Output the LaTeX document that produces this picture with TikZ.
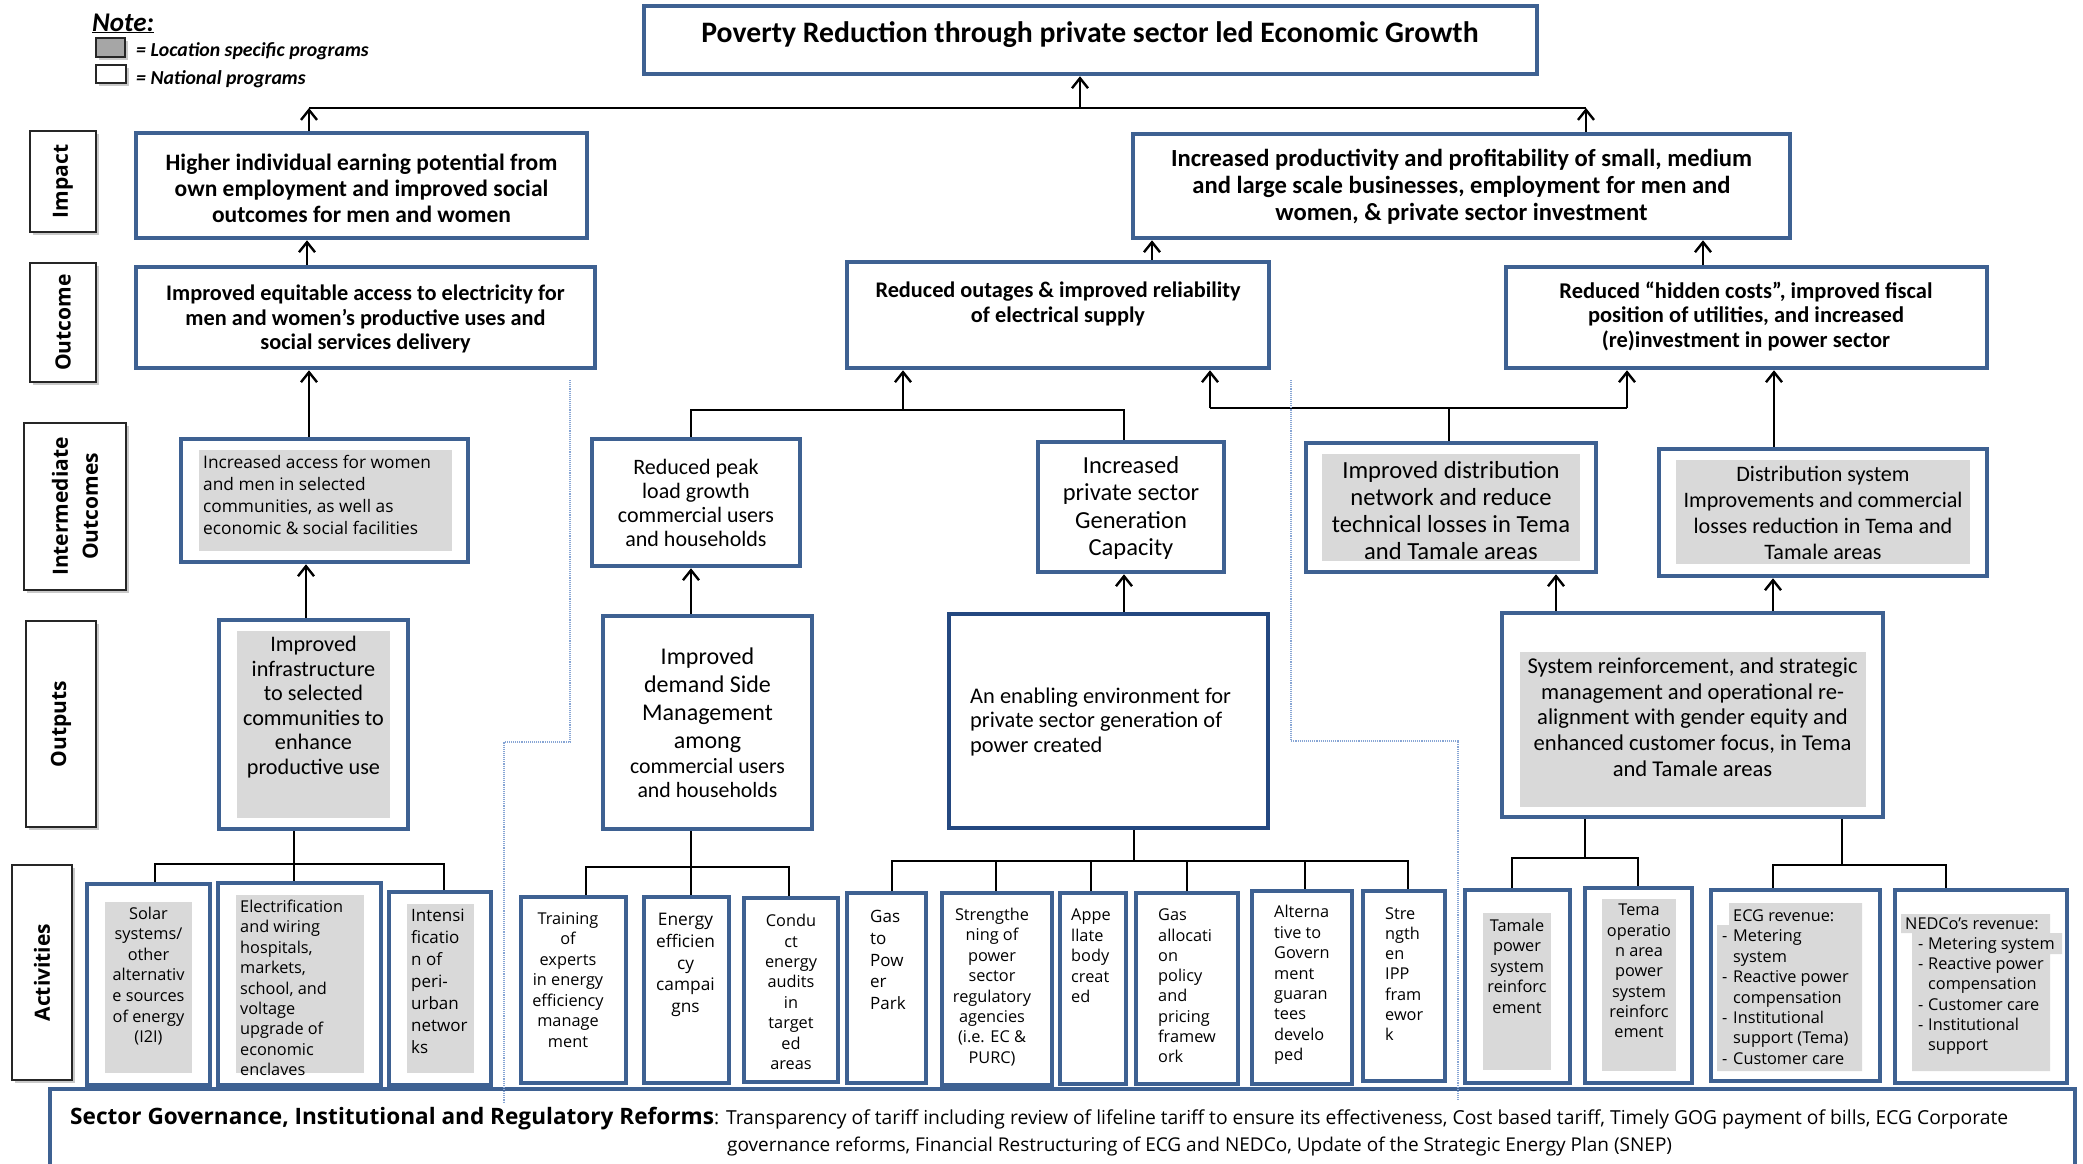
\documentclass[tikz,border=0pt]{standalone}
\usepackage{fontspec}
\setmainfont{Carlito}
\newfontfamily\osans{Open Sans}
\usetikzlibrary{arrows.meta,fit,shadows}
\definecolor{boxblue}{RGB}{62,97,146}
\definecolor{deepblue}{RGB}{36,72,128}
\definecolor{hlgray}{RGB}{217,217,217}
\definecolor{guide}{RGB}{135,165,212}
\newcommand\fs[2]{\fontsize{#1}{#2}\selectfont}
\newcommand\dsh[1]{\makebox[#1][l]{-}}
\begin{document}
\begin{tikzpicture}[x=1pt,y=-1pt,
  obox/.style={draw=boxblue,line width=4.5pt,fill=white,inner sep=0pt},
  gfill/.style={fill=hlgray,draw=none,inner sep=0pt},
  rowlbl/.style={draw=black!85,line width=1.3pt,fill=white,inner sep=0pt,
     drop shadow={shadow xshift=2.5pt,shadow yshift=-2.5pt,fill=black!30,opacity=.7}},
  lbltxt/.style={rotate=90,font=\osans\bfseries\fs{21}{30},align=center,inner sep=0pt},
  ctxt/.style={inner sep=0pt,align=center},
  ltxt/.style={inner sep=0pt,align=left,anchor=west},
  wire/.style={line width=2.6pt,black},
  arr/.style={wire,-{Straight Barb[length=10pt,width=16pt,line width=2.4pt]}},
  guideline/.style={guide,line width=1.1pt,densely dotted}
]
\useasboundingbox (0,0) rectangle (2083,1163);

% ---------- legend ----------
\node[anchor=base west,inner sep=0pt,font=\bfseries\itshape\fs{27}{30}] (note) at (92,31) {\underline{Note:}};
\node[rowlbl,fill=black!35,fit={(96,38) (125,57)}] (lgray) {};
\node[rowlbl,fit={(96,65) (126,83)}] (lwhite) {};
\node[ltxt,font=\bfseries\itshape\fs{19.8}{22}] (lgtxt) at (136,51) {= Location specific programs};
\node[ltxt,font=\bfseries\itshape\fs{19.8}{22}] (lwtxt) at (136,79) {= National programs};

% ---------- goal ----------
\node[obox,fit={(644,6) (1537,74)}] (title) {};
\node[ctxt,font=\bfseries\fs{29.7}{32}] (titletxt) at (1090,35) {Poverty Reduction through private sector led Economic Growth};

% ---------- row labels ----------
\node[rowlbl,fit={(30,131) (96,232)}] (limpact) {};
\node[lbltxt] at (limpact.center) {Impact};
\node[rowlbl,fit={(30,263) (96,382)}] (loutcome) {};
\node[lbltxt] at (loutcome.center) {Outcome};
\node[rowlbl,fit={(24,423) (126,590)}] (linter) {};
\node[lbltxt] at (linter.center) {Intermediate\\Outcomes};
\node[rowlbl,fit={(26,621) (96,827)}] (loutput) {};
\node[lbltxt] at (loutput.center) {Outputs};
\node[rowlbl,fit={(12,865) (72,1080)}] (lactiv) {};
\node[lbltxt] at (lactiv.center) {Activities};

% ---------- impact ----------
\node[obox,fit={(136,133) (587,238)}] (imp1) {};
\node[ctxt,font=\bfseries\fs{23.5}{26}] at (361.5,188) {Higher individual earning potential from\\own employment and improved social\\outcomes for men and women};
\node[obox,fit={(1133,134) (1790,238)}] (imp2) {};
\node[ctxt,font=\bfseries\fs{24.6}{27}] at (1461.5,187) {Increased productivity and profitability of small, medium\\and large scale businesses, employment for men and\\women, \& private sector investment};

% ---------- outcome ----------
\node[obox,fit={(136,267) (595,368)}] (oc1) {};
\node[ctxt,font=\bfseries\fs{22.3}{24.5}] at (365.5,319) {Improved equitable access to electricity for\\men and women’s productive uses and\\social services delivery};
\node[obox,fit={(847,262) (1269,368)}] (oc2) {};
\node[ctxt,font=\bfseries\fs{22.3}{25}] at (1058,304) {Reduced outages \& improved reliability\\of electrical supply};
\node[obox,fit={(1506,267) (1987,368)}] (oc3) {};
\node[ctxt,font=\bfseries\fs{22.5}{24.5}] at (1746,316) {Reduced “hidden costs”, improved fiscal\\position of utilities, and increased\\(re)investment in power sector};

% ---------- intermediate outcomes ----------
\node[obox,fit={(181,439) (468,562)}] (io1) {};
\node[gfill,fit={(199,450) (452,551)}] {};
\node[ltxt,font=\osans\fs{17.3}{21.7}] at (203,495) {Increased access for women\\and men in selected\\communities, as well as\\economic \& social facilities};
\node[obox,fit={(592,439) (800,566)}] (io2) {};
\node[ctxt,font=\fs{22}{24}] at (696,503) {Reduced peak\\load growth\\commercial users\\and households};
\node[obox,fit={(1038,442) (1224,572)}] (io3) {};
\node[ctxt,font=\fs{24.5}{27.4}] at (1131,508) {Increased\\private sector\\Generation\\Capacity};
\node[obox,fit={(1306,443) (1596,572)}] (io4) {};
\node[gfill,fit={(1322,454) (1580,561)}] {};
\node[ctxt,font=\fs{24.6}{27}] at (1451,511) {Improved distribution\\network and reduce\\technical losses in Tema\\and Tamale areas};
\node[obox,fit={(1659,449) (1987,576)}] (io5) {};
\node[gfill,fit={(1676,460) (1970,564)}] {};
\node[ctxt,font=\fs{22.1}{26}] at (1823,513) {Distribution system\\Improvements and commercial\\losses reduction in Tema and\\Tamale areas};

% ---------- outputs ----------
\node[obox,fit={(219,620) (408,829)}] (op1) {};
\node[gfill,fit={(237,631) (390,818)}] {};
\node[ctxt,font=\fs{22.2}{24.5}] at (313.5,707) {Improved\\infrastructure\\to selected\\communities to\\enhance\\productive use};
\node[obox,fit={(603,616) (812,829)}] (op2) {};
\node[ctxt,font=\fs{24}{28}] at (707.5,700) {Improved\\demand Side\\Management\\among};
\node[ctxt,font=\fs{21.8}{24}] at (707.5,778) {commercial users\\and households};
\node[obox,draw=deepblue,fit={(949,614) (1268,828)}] (op3) {};
\node[ltxt,font=\fs{22.4}{24.5}] at (970,722) {An enabling environment for\\private sector generation of\\power created};
\node[obox,fit={(1502,613) (1883,817)}] (op4) {};
\node[gfill,fit={(1520,652) (1866,807)}] {};
\node[ctxt,font=\fs{22.6}{25.7}] at (1692.5,717) {System reinforcement, and strategic\\management and operational re-\\alignment with gender equity and\\enhanced customer focus, in Tema\\and Tamale areas};

% ---------- activities ----------
\node[obox,fit={(87,884) (210,1085)}] (a1) {};
\node[gfill,fit={(105,902) (192,1073)}] {};
\node[ctxt,font=\osans\fs{16.3}{20.6}] at (148.5,976) {Solar\\systems/\\other\\alternativ\\e sources\\of energy\\(I2I)};
\node[obox,fit={(218,883) (381,1085)}] (a2) {};
\node[gfill,fit={(236,895) (364,1073)}] {};
\node[ltxt,font=\osans\fs{16.3}{20.4}] at (240,988) {Electrification\\and wiring\\hospitals,\\markets,\\school, and\\voltage\\upgrade of\\economic\\enclaves};
\node[obox,fit={(389,892) (491,1085)}] (a3) {};
\node[gfill,fit={(407,904) (474,1073)}] {};
\node[ltxt,font=\osans\fs{17}{22}] at (411,981) {Intensi\\ficatio\\n of\\peri-\\urban\\networ\\ks};

\node[obox,fit={(521,897) (626,1083)}] (b1) {};
\node[ctxt,font=\osans\fs{16.3}{20.5}] at (568,980) {Training\\of\\experts\\in energy\\efficiency\\manage\\ment};
\node[obox,fit={(644,897) (729,1083)}] (b2) {};
\node[ctxt,font=\osans\fs{17.3}{21.7}] at (685.5,965) {Energy\\efficien\\cy\\campai\\gns};
\node[obox,fit={(744,898) (838,1082)}] (b3) {};
\node[ctxt,font=\osans\fs{16.3}{20.4}] at (791,992) {Condu\\ct\\energy\\audits\\in\\target\\ed\\areas};

\node[obox,fit={(847,893) (926,1083)}] (c1) {};
\node[ltxt,font=\osans\fs{17}{21.7}] at (870,960) {Gas\\to\\Pow\\er\\Park};
\node[obox,fit={(942,893) (1052,1085)}] (c2) {};
\node[ctxt,font=\osans\fs{16.3}{20.4}] at (992,987) {Strengthe\\ning of\\power\\sector\\regulatory\\agencies\\(i.e. EC \&\\PURC)};
\node[obox,fit={(1060,893) (1126,1084)}] (c3) {};
\node[ltxt,font=\osans\fs{16.3}{20.5}] at (1071,956) {Appe\\llate\\body\\creat\\ed};
\node[obox,fit={(1136,893) (1238,1084)}] (c4) {};
\node[ltxt,font=\osans\fs{16.3}{20.3}] at (1158,986) {Gas\\allocati\\on\\policy\\and\\pricing\\framew\\ork};
\node[obox,fit={(1252,891) (1352,1084)}] (c5) {};
\node[ltxt,font=\osans\fs{16.3}{20.4}] at (1274,985) {Alterna\\tive to\\Govern\\ment\\guaran\\tees\\develo\\ped};
\node[obox,fit={(1363,891) (1445,1081)}] (c6) {};
\node[ltxt,font=\osans\fs{16.3}{20.3}] at (1385,974) {Stre\\ngth\\en\\IPP\\fram\\ewor\\k};

\node[obox,fit={(1465,890) (1570,1083)}] (d1) {};
\node[gfill,fit={(1483,913) (1551,1070)}] {};
\node[ctxt,font=\osans\fs{16.3}{20.5}] at (1517,966) {Tamale\\power\\system\\reinforc\\ement};
\node[obox,fit={(1585,888) (1692,1083)}] (d2) {};
\node[gfill,fit={(1602,899) (1676,1071)}] {};
\node[ctxt,font=\osans\fs{16.3}{20.3}] at (1639,971) {Tema\\operatio\\n area\\power\\system\\reinforc\\ement};

\node[obox,fit={(1711,890) (1880,1081)}] (e1) {};
\fill[hlgray] (1729,903) -- (1862,903) -- (1862,1071) -- (1717,1071) -- (1717,925) -- (1729,925) -- cycle;
\node[ltxt,font=\osans\fs{16.3}{20.4}] at (1722,987) {\hspace*{11pt}ECG revenue:\\\dsh{11pt}Metering\\\hspace*{11pt}system\\\dsh{11pt}Reactive power\\\hspace*{11pt}compensation\\\dsh{11pt}Institutional\\\hspace*{11pt}support (Tema)\\\dsh{11pt}Customer care};
\node[obox,fit={(1895,890) (2067,1083)}] (e2) {};
\fill[hlgray] (1901,914) -- (2050,914) -- (2050,933) -- (2062,933) -- (2062,954) -- (2050,954) -- (2050,1071) -- (1912,1071) -- (1912,933) -- (1901,933) -- cycle;
\node[ltxt,font=\osans\fs{16.3}{20.3}] at (1905,986) {NEDCo’s revenue:\\\hspace*{13pt}\dsh{10pt}Metering system\\\hspace*{13pt}\dsh{10pt}Reactive power\\\hspace*{23pt}compensation\\\hspace*{13pt}\dsh{10pt}Customer care\\\hspace*{13pt}\dsh{10pt}Institutional\\\hspace*{23pt}support};

% ---------- governance bar ----------
\node[obox,fit={(50,1089) (2075,1185)}] (gov) {};
\node[ltxt,font=\osans\fs{19.3}{22}] at (70,1119) {{\bfseries\fs{22.6}{24}Sector Governance, Institutional and Regulatory Reforms}: Transparency of tariff including review of lifeline tariff to ensure its effectiveness, Cost based tariff, Timely GOG payment of bills, ECG Corporate};
\node[ltxt,font=\osans\fs{19}{22}] at (727,1146) {governance reforms, Financial Restructuring of ECG and NEDCo, Update of the Strategic Energy Plan (SNEP)};

% ---------- connectors: impact to goal ----------
\coordinate (tL) at (309,108);
\coordinate (tM) at (1080,108);
\coordinate (tR) at (1586,108);
\draw[wire] (tL) -- (tR);
\draw[arr] (imp1.north -| tL) -- (tL);
\draw[arr] (imp2.north -| tR) -- (tR);
\draw[arr] (tM) -- (title.south -| tM);

% ---------- outcome to impact ----------
\coordinate (xa) at (307,0);
\coordinate (xb) at (1152,0);
\coordinate (xc) at (1703,0);
\draw[arr] (oc1.north -| xa) -- (imp1.south -| xa);
\draw[arr] (oc2.north -| xb) -- (imp2.south -| xb);
\draw[arr] (oc3.north -| xc) -- (imp2.south -| xc);

% ---------- intermediate outcomes to outcome ----------
\coordinate (xd) at (309,0);
\draw[arr] (io1.north -| xd) -- (oc1.south -| xd);
\coordinate (m1) at (691,410);
\coordinate (m2) at (1124,410);
\coordinate (m3) at (903,410);
\draw[wire] (io2.north -| m1) -- (m1) -- (m2) -- (io3.north -| m2);
\draw[arr] (m3) -- (oc2.south -| m3);
\coordinate (n1) at (1210,408);
\coordinate (n2) at (1627,408);
\coordinate (n3) at (1449,408);
\draw[wire] (n1) -- (n2);
\draw[wire] (io4.north -| n3) -- (n3);
\draw[arr] (n1) -- (oc2.south -| n1);
\draw[arr] (n2) -- (oc3.south -| n2);
\coordinate (xe) at (1774,0);
\draw[arr] (io5.north -| xe) -- (oc3.south -| xe);

% ---------- outputs to intermediate outcomes ----------
\coordinate (xf) at (306,0);
\coordinate (xg) at (691,0);
\coordinate (xh) at (1124,0);
\coordinate (xi) at (1556,0);
\coordinate (xj) at (1773,0);
\draw[arr] (op1.north -| xf) -- (io1.south -| xf);
\draw[arr] (op2.north -| xg) -- (io2.south -| xg);
\draw[arr] (op3.north -| xh) -- (io3.south -| xh);
\draw[arr] (op4.north -| xi) -- (io4.south -| xi);
\draw[arr] (op4.north -| xj) -- (io5.south -| xj);

% ---------- activities to outputs ----------
\coordinate (pA) at (294,864);
\coordinate (pA1) at (155,864);
\coordinate (pA3) at (444,864);
\draw[wire] (op1.south -| pA) -- (a2.north -| pA);
\draw[wire] (a1.north -| pA1) -- (pA1) -- (pA3) -- (a3.north -| pA3);

\coordinate (pB) at (691,867);
\coordinate (pB1) at (586,867);
\coordinate (pB3) at (789,867);
\draw[wire] (op2.south -| pB) -- (b2.north -| pB);
\draw[wire] (b1.north -| pB1) -- (pB1) -- (pB3) -- (b3.north -| pB3);

\coordinate (pC) at (1134,861);
\coordinate (pC1) at (892,861);
\coordinate (pC2) at (996,861);
\coordinate (pC3) at (1091,861);
\coordinate (pC4) at (1187,861);
\coordinate (pC5) at (1305,861);
\coordinate (pC6) at (1408,861);
\draw[wire] (op3.south -| pC) -- (pC);
\draw[wire] (c1.north -| pC1) -- (pC1) -- (pC6) -- (c6.north -| pC6);
\draw[wire] (pC2) -- (c2.north -| pC2);
\draw[wire] (pC3) -- (c3.north -| pC3);
\draw[wire] (pC4) -- (c4.north -| pC4);
\draw[wire] (pC5) -- (c5.north -| pC5);

\coordinate (pD) at (1585,858);
\coordinate (pD1) at (1512,858);
\coordinate (pD2) at (1638,858);
\draw[wire] (op4.south -| pD) -- (pD);
\draw[wire] (d1.north -| pD1) -- (pD1) -- (pD2) -- (d2.north -| pD2);

\coordinate (pE) at (1842,865);
\coordinate (pE1) at (1773,865);
\coordinate (pE2) at (1946,865);
\draw[wire] (op4.south -| pE) -- (pE);
\draw[wire] (e1.north -| pE1) -- (pE1) -- (pE2) -- (e2.north -| pE2);

% ---------- dotted guides ----------
\draw[guideline] (570,380) -- (570,742) -- (504,742) -- (504,1102);
\draw[guideline] (1291,380) -- (1291,741) -- (1458,741) -- (1458,1100);
\end{tikzpicture}
\end{document}
